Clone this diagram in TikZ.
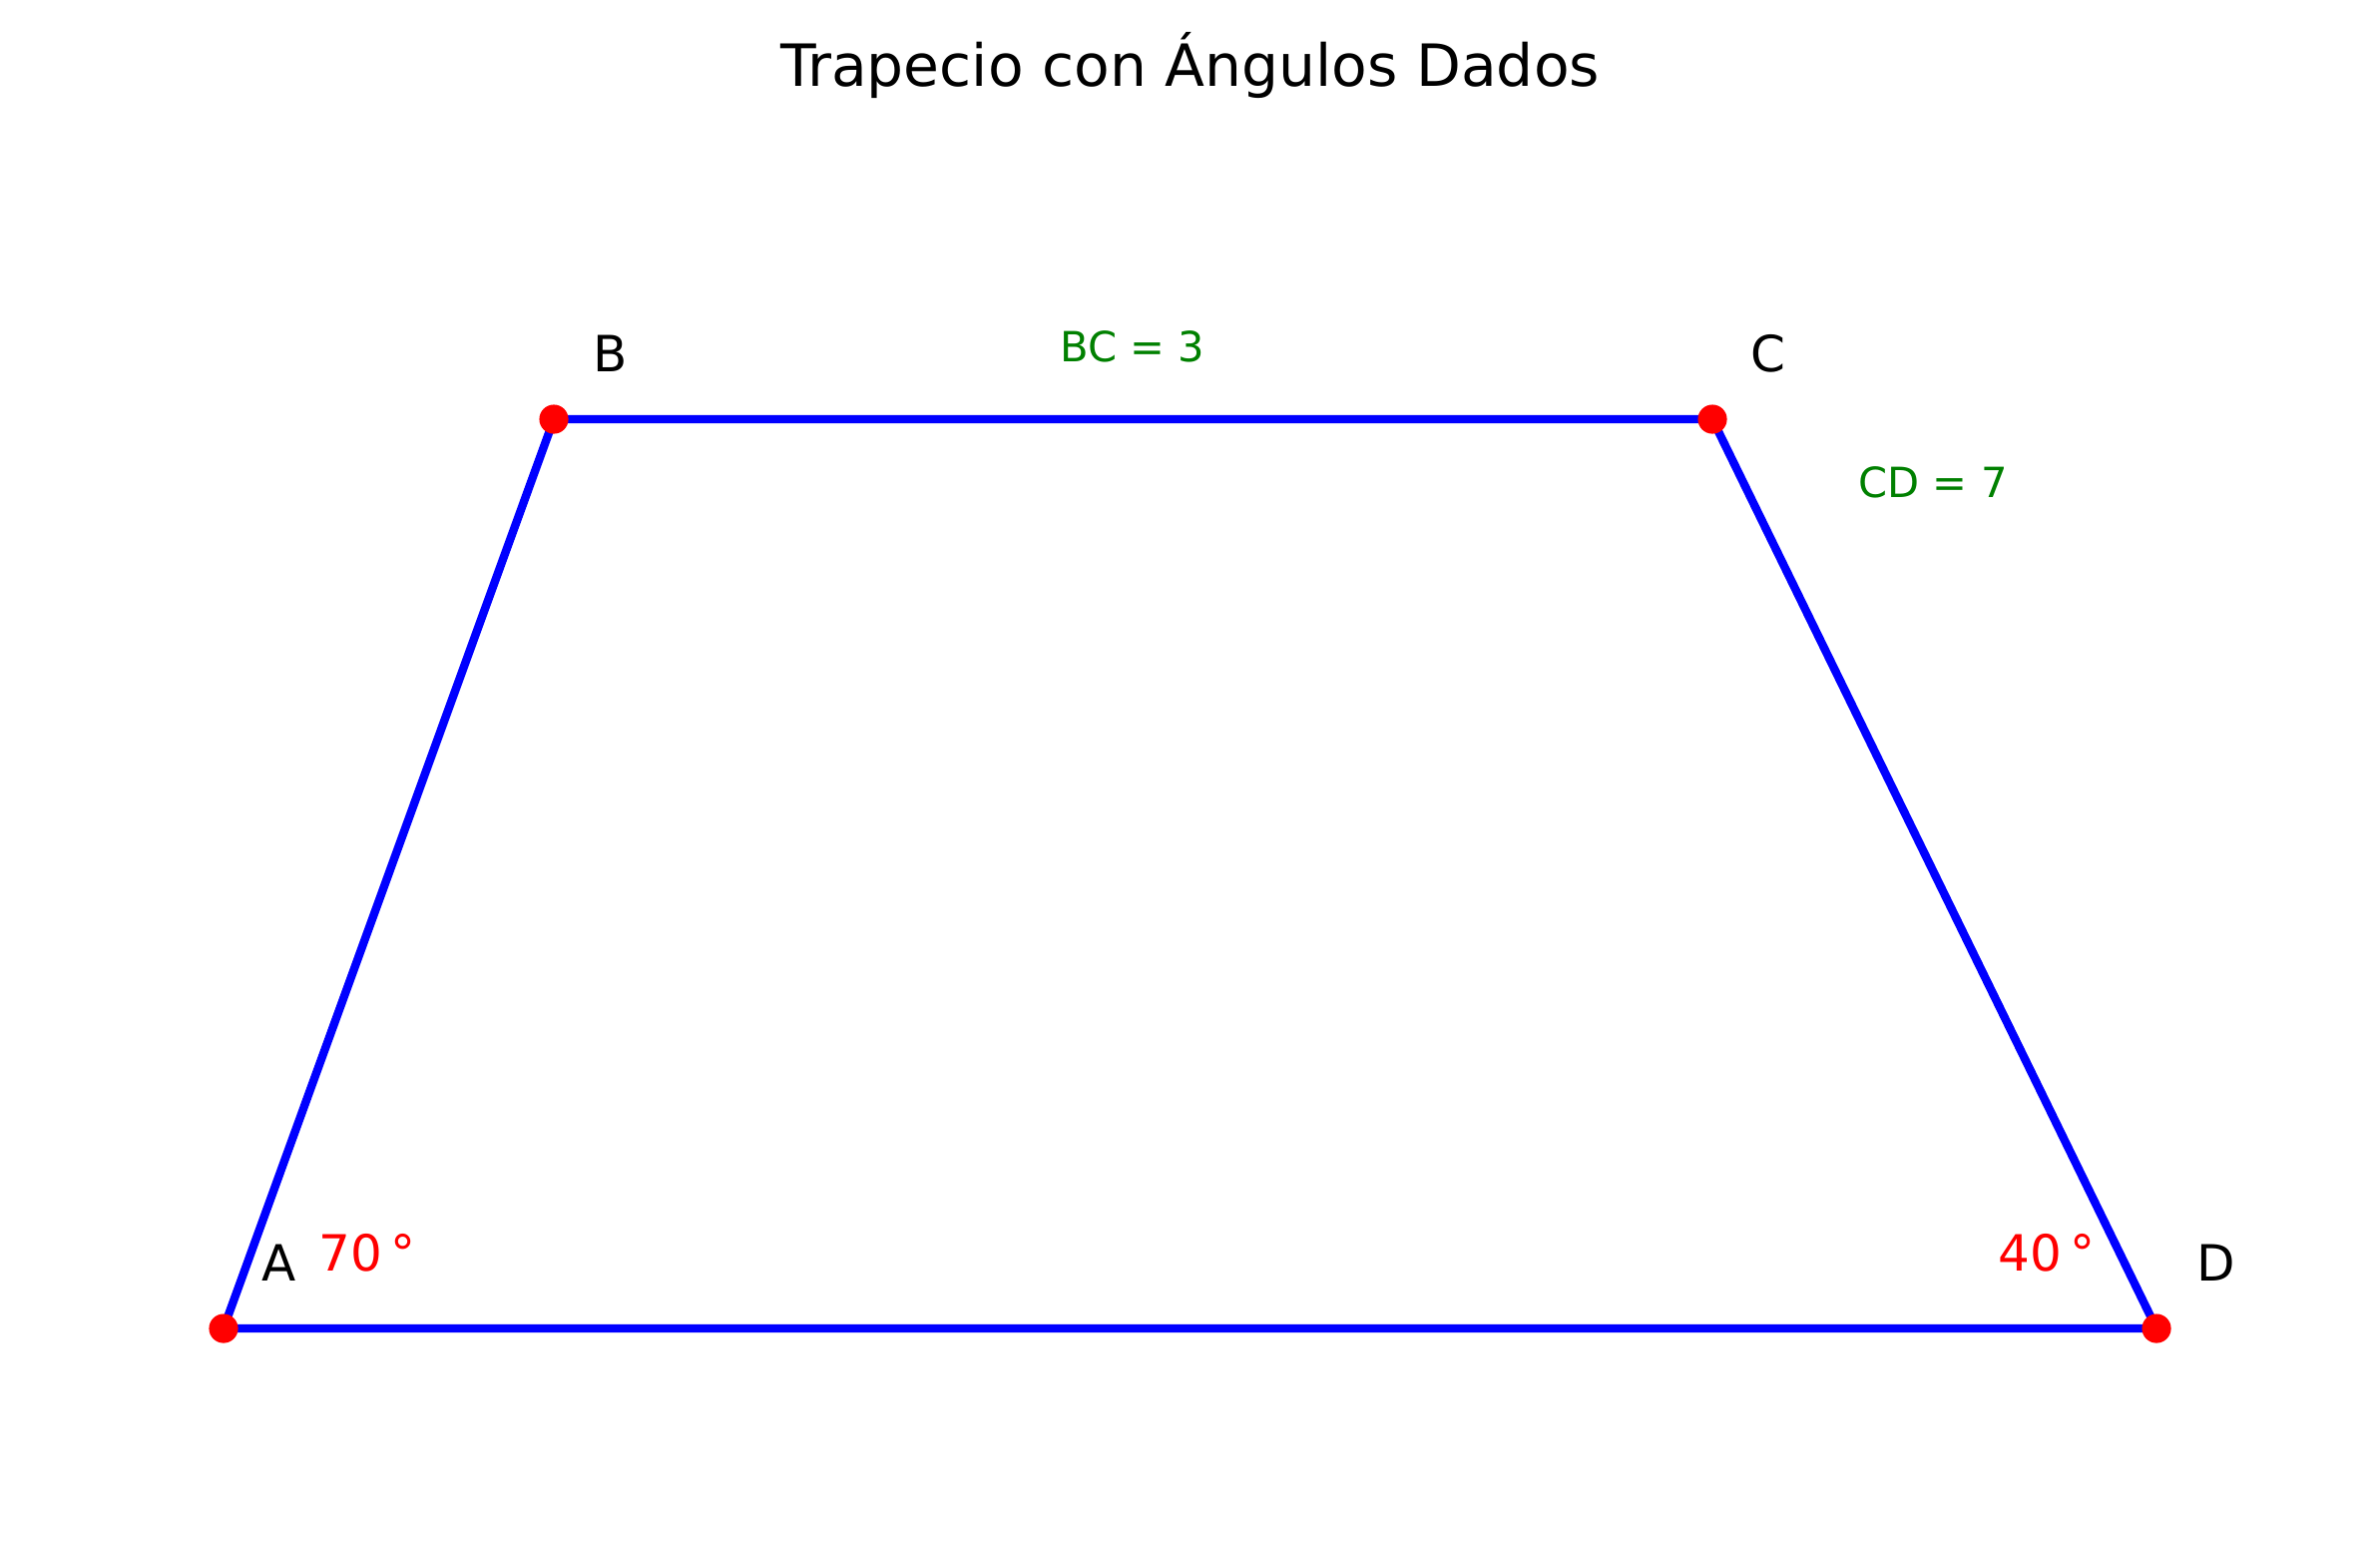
\documentclass[tikz,border=0pt]{standalone}
\usepackage{fontspec}
\setmainfont{DejaVu Sans}
\usetikzlibrary{calc}
\definecolor{lengreen}{RGB}{0,128,0}

\begin{document}
\begin{tikzpicture}[x=0.24pt, y=-0.24pt,
    side/.style = {draw=blue, line width=2pt, line join=round},
    vlabel/.style = {anchor=base, inner sep=0pt, font=\fontsize{12}{14}\selectfont},
    anglabel/.style = {anchor=base, inner sep=0pt, text=red, font=\fontsize{12}{14}\selectfont},
    lenlabel/.style = {anchor=base, inner sep=0pt, text=lengreen, font=\fontsize{10}{12}\selectfont}]
    % Canvas
    \useasboundingbox (0,0) rectangle (2385,1554);
    % Title
    \node[anchor=base, inner sep=0pt, font=\fontsize{14}{17}\selectfont] (title) at (1192.5,86) {Trapecio con Ángulos Dados};

    % Vertices
    \coordinate (A) at (224,1331);
    \coordinate (B) at (555,420);
    \coordinate (C) at (1716,420);
    \coordinate (D) at (2161,1331);

    % Draw trapezoid
    \draw[side] (A) -- (B) -- (C) -- (D) -- cycle;
    \foreach \p in {A,B,C,D}
        \fill[red] (\p) circle (3.5pt);

    % Vertex names
    \node[vlabel] (labA) at ($(A)+(56,-48)$) {A};
    \node[vlabel] (labB) at ($(B)+(57,-48)$) {B};
    \node[vlabel] (labC) at ($(C)+(56,-48)$) {C};
    \node[vlabel] (labD) at ($(D)+(60,-48)$) {D};

    % Given angles
    \node[anglabel] (angA) at ($(A)+(144,-58)$) {70\,°};
    \node[anglabel] (angD) at ($(D)+(-110,-58)$) {40\,°};

    % Given sides
    \node[lenlabel] (lenBC) at (1135,362) {BC = 3};
    \node[lenlabel] (lenCD) at (1937,498) {CD = 7};
\end{tikzpicture}
\end{document}
